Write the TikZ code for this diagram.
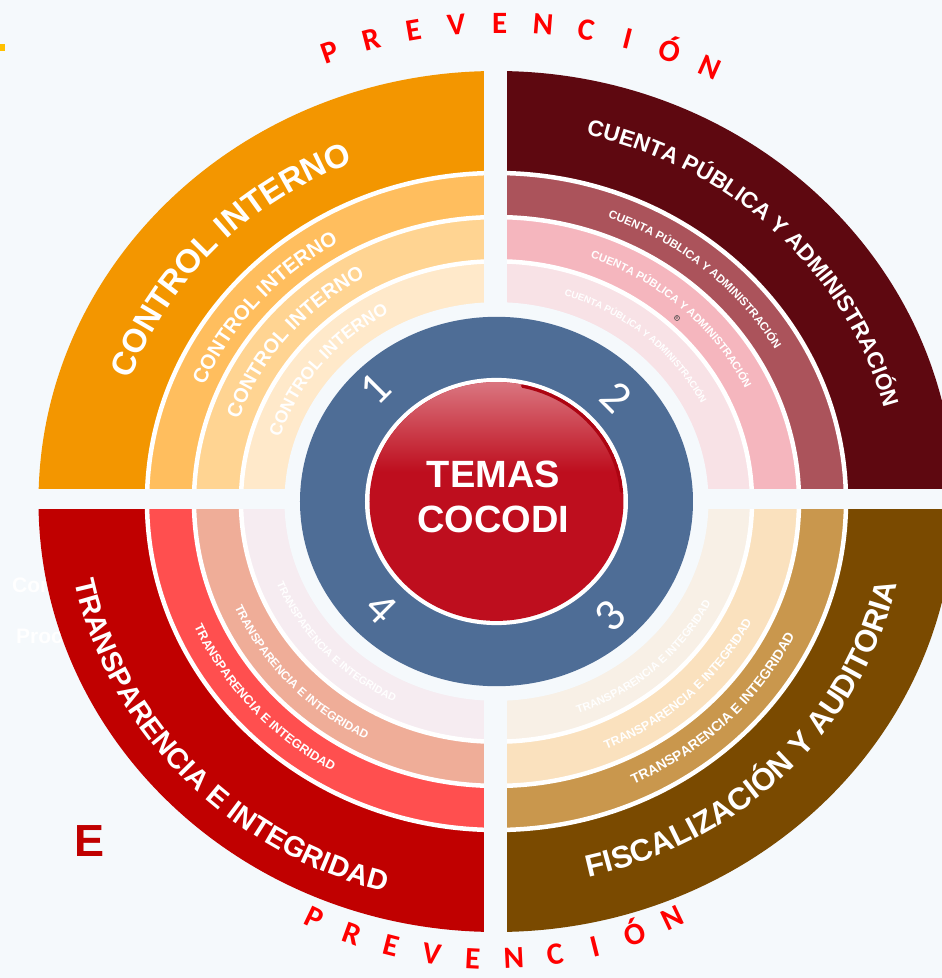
\documentclass[tikz,border=0pt]{standalone}
\usepackage{fontspec}
\setmainfont{Liberation Sans}
\newfontfamily\carlito{Carlito}
\usetikzlibrary{decorations.text,calc}
\definecolor{bgc}{RGB}{245,249,252}
\definecolor{tlA}{RGB}{243,150,0}
\definecolor{tlB}{RGB}{255,190,94}
\definecolor{tlC}{RGB}{255,212,146}
\definecolor{tlD}{RGB}{255,233,202}
\definecolor{trA}{RGB}{94,8,16}
\definecolor{trB}{RGB}{171,83,91}
\definecolor{trC}{RGB}{245,182,190}
\definecolor{trD}{RGB}{248,226,230}
\definecolor{brA}{RGB}{122,74,0}
\definecolor{brB}{RGB}{201,151,77}
\definecolor{brC}{RGB}{250,225,190}
\definecolor{brD}{RGB}{248,240,230}
\definecolor{blA}{RGB}{192,0,0}
\definecolor{blB}{RGB}{255,79,79}
\definecolor{blC}{RGB}{239,173,152}
\definecolor{blD}{RGB}{246,236,241}
\definecolor{ringblue}{RGB}{78,109,150}
\definecolor{cocred}{RGB}{190,14,30}
\definecolor{cocpink}{RGB}{218,118,128}
\definecolor{cocdark}{RGB}{172,4,18}
\definecolor{prevred}{RGB}{255,0,0}
\definecolor{ered}{RGB}{192,0,0}
\definecolor{gold}{RGB}{255,192,0}
\newcommand{\bands}[4]{%
  \fill[#1] (0,0) ellipse[x radius=458,y radius=430.5];
  \filldraw[fill=#2,bandline] (0,0) ellipse[x radius=349.5,y radius=328.5];
  \filldraw[fill=#3,bandline] (0,0) ellipse[x radius=302.5,y radius=284.4];
  \filldraw[fill=#4,bandline] (0,0) ellipse[x radius=255.5,y radius=240.2];}
\newcommand{\bandtext}[6]{%
  \pgfmathsetmacro{\bry}{#3*0.94}%
  \path[decorate,decoration={text along path,text align=center,text color=#5,
    text={|\fontsize{#4}{#4}\selectfont\bfseries|#6}}]
    (#1:#3 and \bry) arc[start angle=#1,end angle=#2,x radius=#3,y radius=\bry];}
\tikzset{
  bandline/.style={draw=white,line width=4.5pt},
  prev/.style={font=\carlito\bfseries\fontsize{31}{31}\selectfont,text=prevred,inner sep=0pt,text height=20pt,text depth=0pt,anchor=center},
  num/.style={font=\carlito\fontsize{46}{46}\selectfont,text=white,inner sep=0pt,text height=29pt,text depth=0pt,anchor=center},
  ghost/.style={font=\bfseries\fontsize{21}{21}\selectfont,text=white,inner sep=0pt,anchor=base west}
}
\begin{document}
\begin{tikzpicture}[x=1pt,y=1pt]
\useasboundingbox (-496.5,-476.5) rectangle (445.5,501.5);
\clip (-496.5,-476.5) rectangle (445.5,501.5);
\fill[bgc] (-496.5,-476.5) rectangle (445.5,501.5);
% small gold mark
\fill[gold] (-496,457.5) rectangle (-491.5,450.5);
% faint texts behind the left quadrant
\node[ghost] (co) at (-484.5,-90.5) {Con};
\node[ghost] (proc) at (-480.5,-141.5) {Proc};
% quadrants
\begin{scope}\clip (-500,0) rectangle (0,510); \bands{tlA}{tlB}{tlC}{tlD}\end{scope}
\begin{scope}\clip (0,0) rectangle (500,510); \bands{trA}{trB}{trC}{trD}\end{scope}
\begin{scope}\clip (-500,0) rectangle (0,-480); \bands{blA}{blB}{blC}{blD}\end{scope}
\begin{scope}\clip (0,0) rectangle (500,-480); \bands{brA}{brB}{brC}{brD}\end{scope}
\fill[bgc] (0,0) ellipse[x radius=212,y radius=199.3];
\fill[bgc] (-12.5,-480) rectangle (10.5,505);
\fill[bgc] (-500,-7.5) rectangle (450,12.5);
% blue ring and centre
\fill[ringblue] (0,0) ellipse[x radius=196.5,y radius=184.7];
\fill[white] (0,0) ellipse[x radius=131.5,y radius=123.6];
\begin{scope}
\clip (0,0) ellipse[x radius=127,y radius=119.4];
\fill[cocred] (-130,-125) rectangle (130,125);
\shade[top color=cocpink,bottom color=cocred] (-130,120) rectangle (130,30);
\draw[cocdark,line width=3.5pt,line cap=round] (78:125.5 and 118) arc[start angle=78,end angle=5,x radius=125.5,y radius=118];
\end{scope}
\node[font=\bfseries\fontsize{38}{38}\selectfont,text=white,inner sep=0pt,anchor=base] (temas) at (-3,14.5) {TEMAS};
\node[font=\bfseries\fontsize{38}{38}\selectfont,text=white,inner sep=0pt,anchor=base] (cocodi) at (-3,-30.5) {COCODI};
% numbers
\node[num,rotate=45] (n1) at (-121.5,112.5) {1};
\node[num,rotate=-45] (n2) at (119.5,104.5) {2};
\node[num,rotate=45] (n3) at (113.5,-114.5) {3};
\node[num,rotate=-45] (n4) at (-115.5,-106.5) {4};
% band texts
\bandtext{192}{82}{388}{33}{white}{CONTROL INTERNO}
\bandtext{194.5}{84.5}{317}{20.5}{white}{CONTROL INTERNO}
\bandtext{196}{86}{272}{20}{white}{CONTROL INTERNO}
\bandtext{196.3}{86.3}{227}{17.4}{white}{CONTROL INTERNO}
\bandtext{100}{-10}{400}{22.5}{white}{CUENTA PÚBLICA Y ADMINISTRACIÓN}
\bandtext{104}{-6}{322}{11.5}{white}{CUENTA PÚBLICA Y ADMINISTRACIÓN}
\bandtext{102}{-8}{276}{11}{white}{CUENTA PÚBLICA Y ADMINISTRACIÓN}
\bandtext{104}{-6}{229.5}{9.5}{white}{CUENTA PÚBLICA Y ADMINISTRACIÓN}
\bandtext{-99}{11}{410}{31}{white}{FISCALIZACIÓN Y AUDITORIA}
\bandtext{-99.5}{10.5}{330.5}{13.9}{white}{TRANSPARENCIA E INTEGRIDAD}
\bandtext{-101}{9}{285.4}{12.3}{white}{TRANSPARENCIA E INTEGRIDAD}
\bandtext{-102.5}{7.5}{240}{11}{white}{TRANSPARENCIA E INTEGRIDAD}
\bandtext{167.5}{277.5}{430}{28.7}{white}{TRANSPARENCIA E INTEGRIDAD}
\bandtext{166}{276}{330.5}{12.6}{white}{TRANSPARENCIA E INTEGRIDAD}
\bandtext{167}{277}{285}{11.8}{white}{TRANSPARENCIA E INTEGRIDAD}
\bandtext{167}{277}{236.3}{10.6}{white}{TRANSPARENCIA E INTEGRIDAD}
% small mark
\node[draw=black!70,circle,inner sep=0.4pt,line width=0.6pt,font=\fontsize{5}{5}\selectfont,text=black!70] (emark) at (180.5,183.5) {e};
% PREVENCION arcs
\foreach \l [count=\i from 0] in {P,R,E,V,E,N,C,I,Ó,N} {
  \pgfmathsetmacro{\ang}{109.3-4.79*\i}
  \pgfmathsetmacro{\rot}{\ang-90}
  \node[prev,rotate=\rot] (pt\i) at ($(4.5,-40)+(\ang:518.5)$) {\l};
}
\foreach \l [count=\i from 0] in {P,R,E,V,E,N,C,I,Ó,N} {
  \pgfmathsetmacro{\ang}{244.35+5.68*\i}
  \pgfmathsetmacro{\rot}{\ang+90}
  \node[prev,rotate=\rot] (pb\i) at ($(-2.5,-41.5)+(\ang:416)$) {\l};
}
% E
\node[font=\bfseries\fontsize{45}{45}\selectfont,text=ered,inner sep=0pt] (bigE) at (-406.5,-339.5) {E};
\end{tikzpicture}
\end{document}
